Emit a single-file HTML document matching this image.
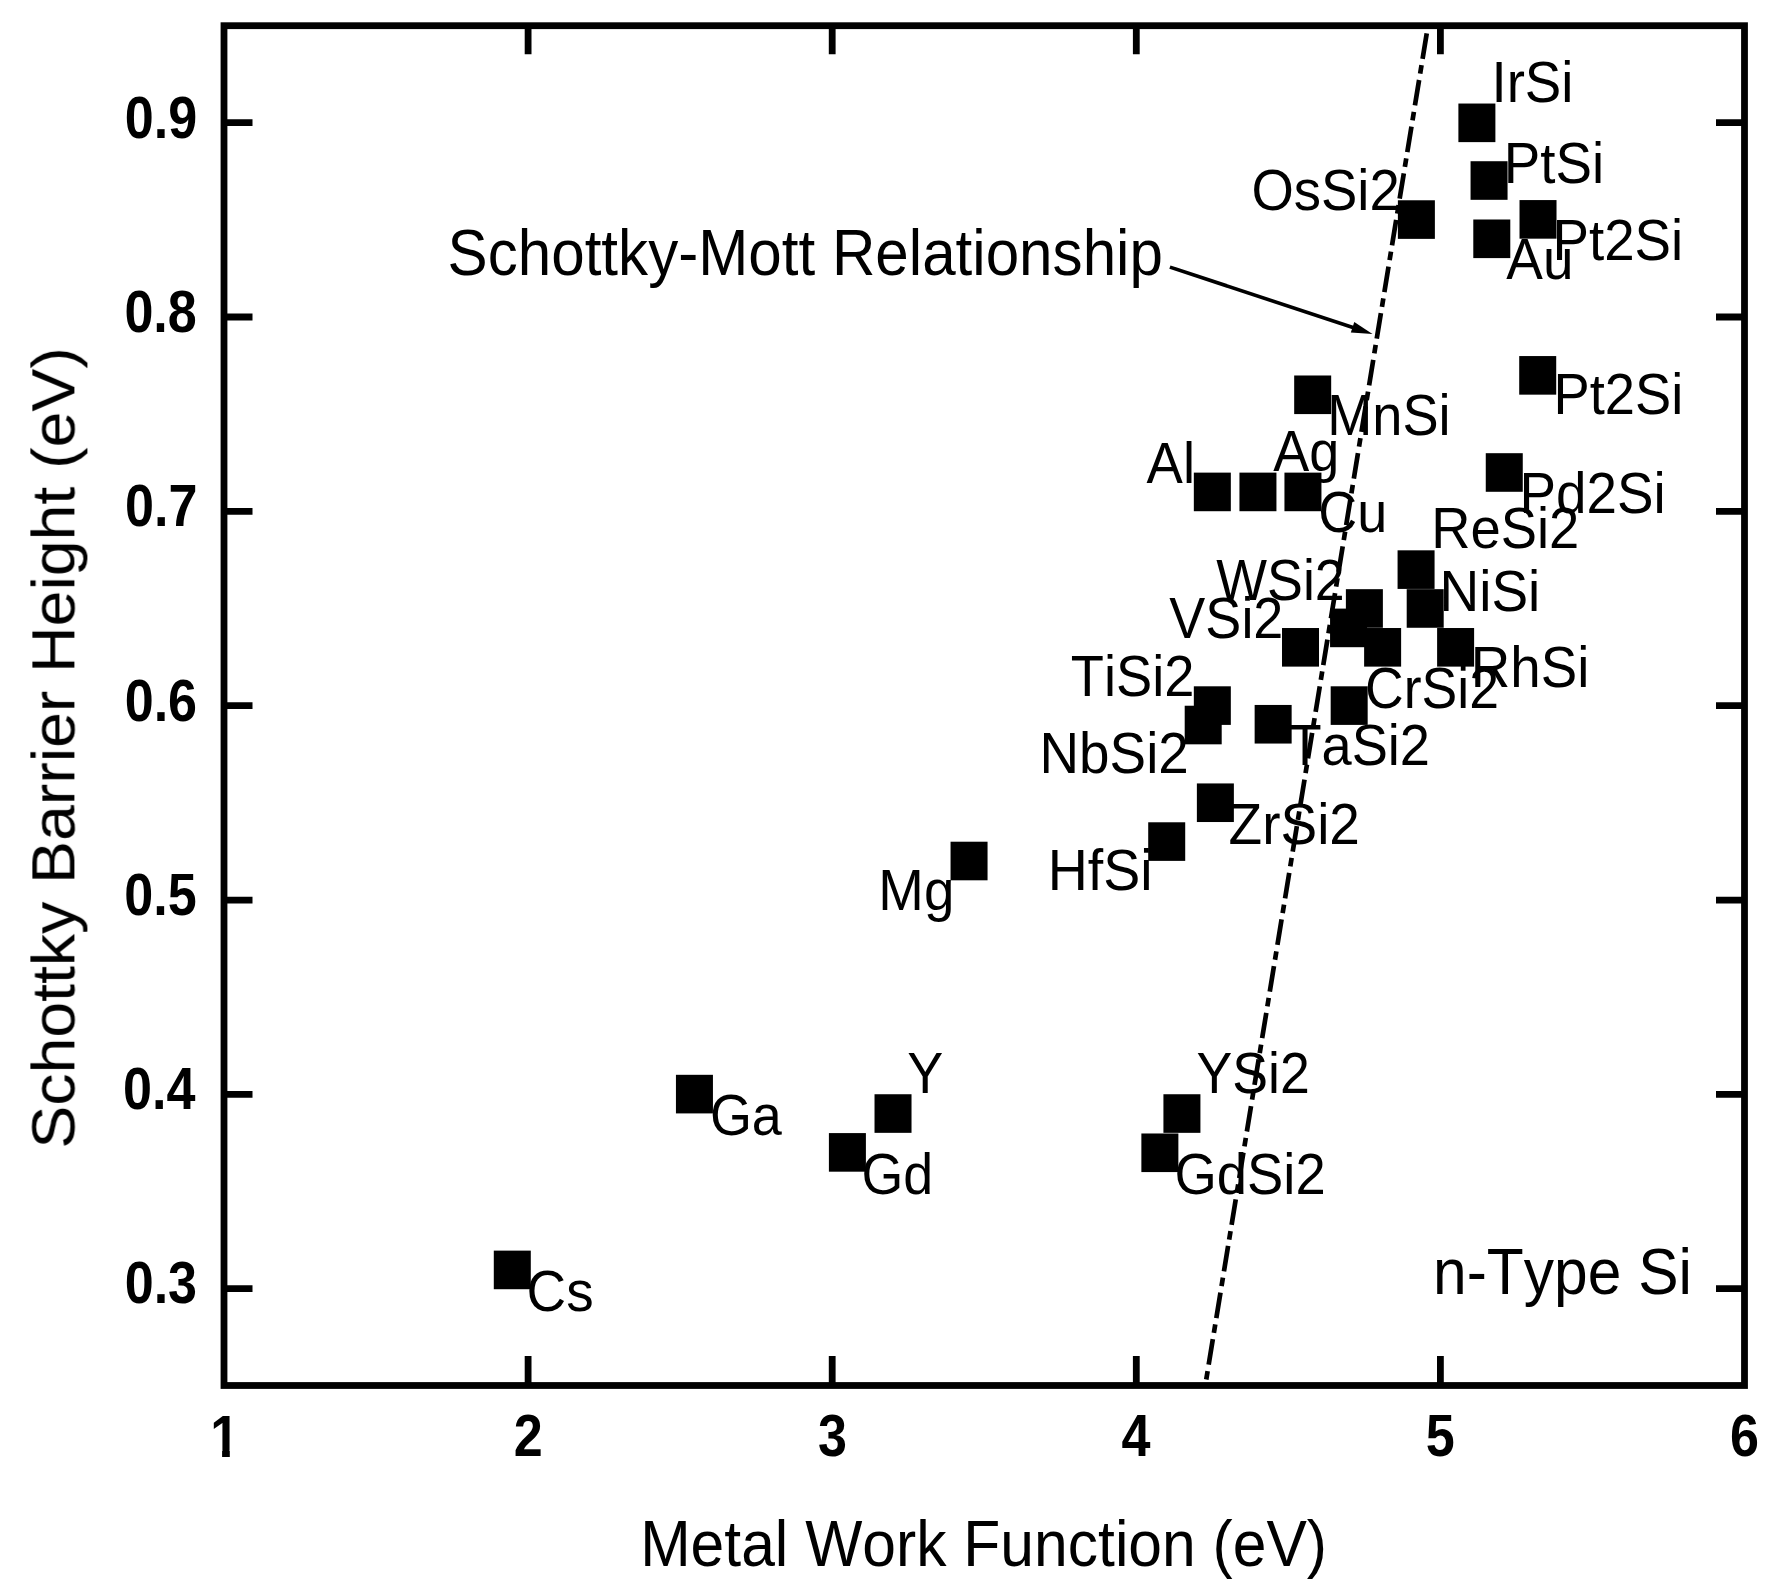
<!DOCTYPE html>
<html lang="en"><head><meta charset="utf-8"><title>Schottky Barrier Height vs Metal Work Function</title>
<style>
html,body{margin:0;padding:0;background:#fff;}
body{width:1777px;height:1591px;overflow:hidden;}
svg{display:block;}
text{font-family:"Liberation Sans",Arial,Helvetica,sans-serif;fill:#000;font-kerning:none;}
.lab{font-size:54px;}
.big{font-size:60px;}
.tick{font-size:52.1px;font-weight:bold;}
</style></head><body>
<svg width="1777" height="1591" viewBox="0 0 1777 1591">
<defs><filter id="soft" x="0" y="0" width="1777" height="1591" filterUnits="userSpaceOnUse"><feGaussianBlur stdDeviation="0.6"/></filter></defs>
<rect x="0" y="0" width="1777" height="1591" fill="#fff"/>
<g filter="url(#soft)">
<line x1="1428.00" y1="25.70" x2="1205.26" y2="1385.50" stroke="#000" stroke-width="4.7" stroke-dasharray="25.8 6.4 8.6 6.46" stroke-dashoffset="39.5"/>
<g stroke="#000" stroke-width="6.8" fill="none">
<path d="M528.10 25.70V54.20M528.10 1385.50V1356.00"/>
<path d="M832.20 25.70V54.20M832.20 1385.50V1356.00"/>
<path d="M1136.30 25.70V54.20M1136.30 1385.50V1356.00"/>
<path d="M1440.40 25.70V54.20M1440.40 1385.50V1356.00"/>
<path d="M224.00 1288.72H252.50M1744.50 1288.72H1716.00"/>
<path d="M224.00 1094.38H252.50M1744.50 1094.38H1716.00"/>
<path d="M224.00 900.04H252.50M1744.50 900.04H1716.00"/>
<path d="M224.00 705.70H252.50M1744.50 705.70H1716.00"/>
<path d="M224.00 511.36H252.50M1744.50 511.36H1716.00"/>
<path d="M224.00 317.02H252.50M1744.50 317.02H1716.00"/>
<path d="M224.00 122.68H252.50M1744.50 122.68H1716.00"/>
<rect x="224.00" y="25.70" width="1520.50" height="1359.80"/>
</g>
<g fill="#000">
<rect x="493.79" y="1250.62" width="37.0" height="38.6"/>
<rect x="675.94" y="1074.81" width="37.0" height="38.6"/>
<rect x="828.90" y="1133.09" width="37.0" height="38.6"/>
<rect x="874.52" y="1094.24" width="37.0" height="38.6"/>
<rect x="950.55" y="841.71" width="37.0" height="38.6"/>
<rect x="1148.21" y="822.28" width="37.0" height="38.6"/>
<rect x="1196.87" y="783.43" width="37.0" height="38.6"/>
<rect x="1141.37" y="1133.48" width="37.0" height="38.6"/>
<rect x="1163.42" y="1094.24" width="37.0" height="38.6"/>
<rect x="1184.70" y="705.73" width="37.0" height="38.6"/>
<rect x="1193.83" y="686.30" width="37.0" height="38.6"/>
<rect x="1254.64" y="704.95" width="37.0" height="38.6"/>
<rect x="1330.67" y="686.30" width="37.0" height="38.6"/>
<rect x="1282.01" y="628.02" width="37.0" height="38.6"/>
<rect x="1330.06" y="608.60" width="37.0" height="38.6"/>
<rect x="1345.88" y="589.17" width="37.0" height="38.6"/>
<rect x="1364.12" y="628.02" width="37.0" height="38.6"/>
<rect x="1193.83" y="472.62" width="37.0" height="38.6"/>
<rect x="1239.44" y="472.62" width="37.0" height="38.6"/>
<rect x="1284.45" y="472.62" width="37.0" height="38.6"/>
<rect x="1294.18" y="375.49" width="37.0" height="38.6"/>
<rect x="1397.57" y="550.32" width="37.0" height="38.6"/>
<rect x="1406.70" y="589.17" width="37.0" height="38.6"/>
<rect x="1437.11" y="628.02" width="37.0" height="38.6"/>
<rect x="1485.76" y="453.19" width="37.0" height="38.6"/>
<rect x="1519.21" y="356.06" width="37.0" height="38.6"/>
<rect x="1519.52" y="200.07" width="37.0" height="38.6"/>
<rect x="1473.29" y="219.50" width="37.0" height="38.6"/>
<rect x="1470.56" y="161.22" width="37.0" height="38.6"/>
<rect x="1458.39" y="103.53" width="37.0" height="38.6"/>
<rect x="1397.88" y="200.27" width="37.0" height="38.6"/>
</g>
<line x1="1169.90" y1="267.10" x2="1354.46" y2="327.95" stroke="#000" stroke-width="3.6"/>
<polygon points="1372.50,333.90 1350.83,332.55 1354.28,322.10" fill="#000"/>
<g class="lab">
<text transform="translate(1491.45 101.50) scale(1.0127 1.075)">IrSi</text>
<text transform="translate(1503.71 183.40) scale(1.0136 1.075)">PtSi</text>
<text transform="translate(1552.51 259.90) scale(1.0132 1.075)">Pt2Si</text>
<text transform="translate(1506.29 279.10) scale(1.0167 1.075)">Au</text>
<text transform="translate(1553.55 414.40) scale(1.0050 1.075)">Pt2Si</text>
<text transform="translate(1251.42 209.80) scale(1.0086 1.075)">OsSi2</text>
<text transform="translate(1327.15 434.70) scale(1.0038 1.075)">MnSi</text>
<text transform="translate(1146.59 483.40) scale(1.0091 1.075)">Al</text>
<text transform="translate(1273.29 470.90) scale(1.0000 1.075)">Ag</text>
<text transform="translate(1318.26 532.00) scale(1.0000 1.075)">Cu</text>
<text transform="translate(1431.34 548.40) scale(1.0062 1.075)">ReSi2</text>
<text transform="translate(1519.51 512.70) scale(1.0138 1.075)">Pd2Si</text>
<text transform="translate(1439.49 611.40) scale(1.0182 1.075)">NiSi</text>
<text transform="translate(1470.81 687.40) scale(1.0131 1.075)">RhSi</text>
<text transform="translate(1216.26 600.00) scale(0.9963 1.075)">WSi2</text>
<text transform="translate(1169.36 638.00) scale(1.0000 1.075)">VSi2</text>
<text transform="translate(1070.78 695.90) scale(1.0050 1.075)">TiSi2</text>
<text transform="translate(1365.08 708.20) scale(0.9918 1.075)">CrSi2</text>
<text transform="translate(1039.50 772.80) scale(1.0155 1.075)">NbSi2</text>
<text transform="translate(1288.38 765.00) scale(1.0041 1.075)">TaSi2</text>
<text transform="translate(1228.55 844.00) scale(1.0186 1.075)">ZrSi2</text>
<text transform="translate(1047.75 889.80) scale(1.0282 1.075)">HfSi</text>
<text transform="translate(878.31 909.80) scale(1.0133 1.075)">Mg</text>
<text transform="translate(907.21 1093.00) scale(1.0000 1.075)">Y</text>
<text transform="translate(709.88 1135.40) scale(1.0000 1.075)">Ga</text>
<text transform="translate(861.49 1193.60) scale(0.9964 1.075)">Gd</text>
<text transform="translate(526.51 1310.60) scale(1.0163 1.075)">Cs</text>
<text transform="translate(1196.42 1092.80) scale(0.9940 1.075)">YSi2</text>
<text transform="translate(1174.46 1193.50) scale(1.0079 1.075)">GdSi2</text>
</g>
<g class="big">
<text transform="translate(447.57 274.70) scale(1 1.075)" style="font-size:60.15px">Schottky-Mott Relationship</text>
<text transform="translate(1433.08 1293.60) scale(1 1.069)" style="font-size:60.50px">n-Type Si</text>
<text transform="translate(640.13 1565.70) scale(1 1.067)" style="font-size:60.60px">Metal Work Function (eV)</text>
</g>
<text transform="translate(74.4 1145.70) rotate(-90) scale(1.0575 1)" x="-2.77" y="0" style="font-size:60.9px">Schottky Barrier Height (eV)</text>
<g class="tick">
<text transform="translate(124.66 1303.37) scale(1 1.130)">0.3</text>
<text transform="translate(123.05 1109.11) scale(1 1.130)">0.4</text>
<text transform="translate(124.22 914.86) scale(1 1.130)">0.5</text>
<text transform="translate(124.66 720.60) scale(1 1.130)">0.6</text>
<text transform="translate(125.06 526.34) scale(1 1.130)">0.7</text>
<text transform="translate(124.38 332.09) scale(1 1.130)">0.8</text>
<text transform="translate(124.71 137.83) scale(1 1.130)">0.9</text>
<clipPath id="one"><rect x="190" y="1400" width="70" height="50.3"/><rect x="222.10" y="1450" width="7.7" height="12"/></clipPath>
<g clip-path="url(#one)"><text transform="translate(210.20 1456.60) scale(1 1.130)">1</text></g>
<text transform="translate(513.75 1456.40) scale(1 1.130)">2</text>
<text transform="translate(818.06 1456.40) scale(1 1.130)">3</text>
<text transform="translate(1121.56 1456.40) scale(1 1.130)">4</text>
<text transform="translate(1425.84 1456.40) scale(1 1.130)">5</text>
<text transform="translate(1730.00 1456.40) scale(1 1.130)">6</text>
</g>
</g>
</svg>
</body></html>
